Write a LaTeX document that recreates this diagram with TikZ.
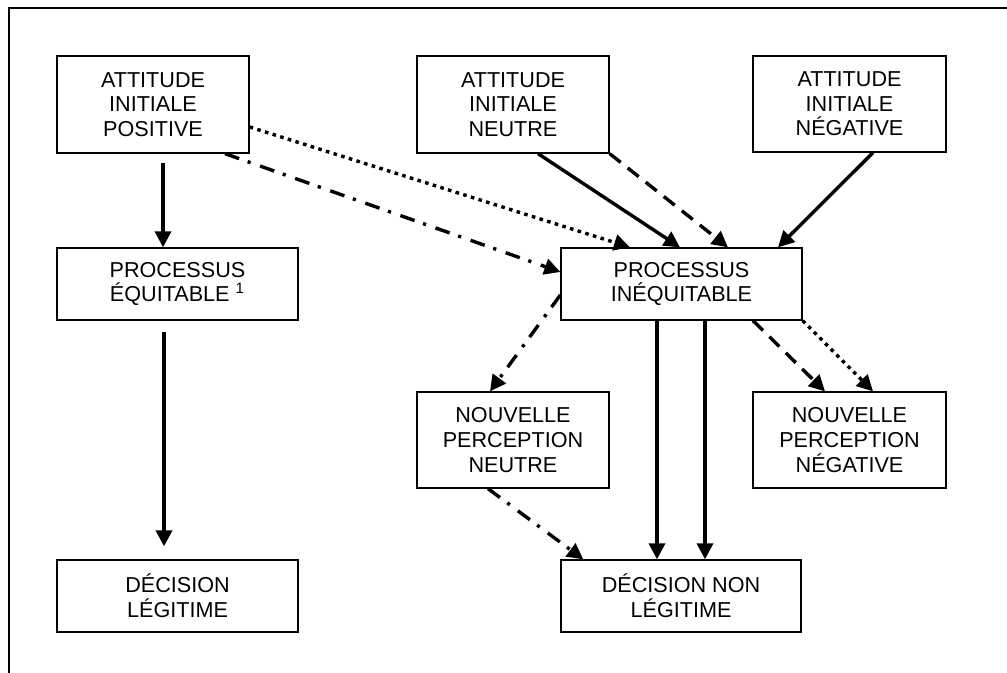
\documentclass[tikz,border=0pt]{standalone}
\usepackage{fontspec}
\setmainfont{Liberation Sans}
\usetikzlibrary{arrows.meta}
\begin{document}
\begin{tikzpicture}[x=0.5pt,y=-0.5pt,
  box/.style={draw,line width=0.65pt,inner sep=0pt,align=center,
    font=\fontsize{10.8}{12.3}\selectfont},
  conn/.style={line width=1.7pt,-{Triangle[length=8pt,width=8pt]}},
  plain/.style={conn},
  dashline/.style={conn,dash pattern=on 7pt off 4.5pt},
  dotline/.style={conn,dash pattern=on 1.8pt off 2.2pt},
  dashdotline/.style={conn,dash pattern=on 7.5pt off 4.5pt on 1.6pt off 5pt}]
\useasboundingbox (0,0) rectangle (1007,673);
% open frame: top and left edges only
\draw[line width=0.6pt] (9,673) -- (9,8) -- (1007,8);

% initial attitudes
\node[box,minimum width=96pt,minimum height=48.5pt] (apos) at (153,104.5)
  {ATTITUDE\\INITIALE\\POSITIVE};
\node[box,minimum width=96pt,minimum height=48.5pt] (aneu) at (513,104.5)
  {ATTITUDE\\INITIALE\\NEUTRE};
\node[box,minimum width=96.5pt,minimum height=48pt] (aneg) at (849.5,104)
  {ATTITUDE\\INITIALE\\NÉGATIVE};

% processes
\node[box,minimum width=120.5pt,minimum height=36pt] (peq) at (177.5,284)
  {PROCESSUS\\ÉQUITABLE \textsuperscript{1}};
\node[box,minimum width=120.5pt,minimum height=36pt] (pineq) at (681.5,284)
  {PROCESSUS\\INÉQUITABLE};

% new perceptions
\node[box,minimum width=96pt,minimum height=48pt] (npneu) at (513,440)
  {NOUVELLE\\PERCEPTION\\NEUTRE};
\node[box,minimum width=96.5pt,minimum height=48pt] (npneg) at (849.5,440)
  {NOUVELLE\\PERCEPTION\\NÉGATIVE};

% decisions
\node[box,minimum width=120.5pt,minimum height=36pt] (dleg) at (177.5,596)
  {DÉCISION\\LÉGITIME};
\node[box,minimum width=120pt,minimum height=36pt] (dnon) at (681,596)
  {DÉCISION NON\\LÉGITIME};

% fair path
\draw[plain] ([shift={(10,9)}]apos.south) -- ([shift={(-14.5,0)}]peq.north);
\draw[plain] ([shift={(-13.5,11)}]peq.south) -- ([shift={(-13.5,-13)}]dleg.north);

% into the unfair process
\draw[dotline] ([shift={(0,22.5)}]apos.east) -- ([shift={(-51.5,0)}]pineq.north);
\draw[dashdotline] ([shift={(72,0)}]apos.south) -- ([shift={(0,-12)}]pineq.west);
\draw[plain] ([shift={(25,0)}]aneu.south) -- ([shift={(-1.5,0)}]pineq.north);
\draw[dashline] (aneu.south east) -- ([shift={(46.5,0)}]pineq.north);
\draw[plain] ([shift={(23.5,0)}]aneg.south) -- ([shift={(96.5,0)}]pineq.north);

% out of the unfair process
\draw[dashdotline] ([shift={(0,11)}]pineq.west) -- ([shift={(-23,0)}]npneu.north);
\draw[plain] ([shift={(-24.5,0)}]pineq.south) -- ([shift={(-24,0)}]dnon.north);
\draw[plain] ([shift={(23.5,0)}]pineq.south) -- ([shift={(24,0)}]dnon.north);
\draw[dashline] ([shift={(71.5,0)}]pineq.south) -- ([shift={(-24.5,0)}]npneg.north);
\draw[dotline] (pineq.south east) -- ([shift={(23.5,0)}]npneg.north);
\draw[dashdotline] ([shift={(-25,0)}]npneu.south) -- ([shift={(23,0)}]dnon.north west);
\end{tikzpicture}
\end{document}
